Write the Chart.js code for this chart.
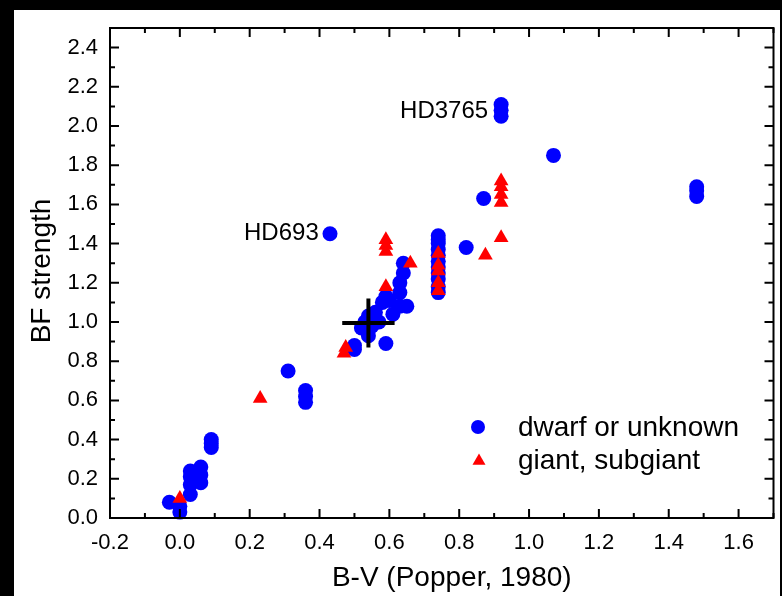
<!DOCTYPE html>
<html><head><meta charset="utf-8">
<script src="https://cdn.jsdelivr.net/npm/chart.js@4/dist/chart.umd.min.js"></script>
<style>html,body{margin:0;padding:0;background:#000;}canvas{display:block;}</style>
</head><body>
<canvas id="c" width="782" height="596"></canvas>
<script>
// ---- data ----
const seriesLabels = ["dwarf or unknown", "giant, subgiant"];
const dwarfX = [-0.03, 0.00, 0.00, 0.03, 0.03, 0.03, 0.03, 0.06, 0.06, 0.06, 0.09, 0.09, 0.09,
  0.31, 0.36, 0.36, 0.36, 0.43, 0.50, 0.50, 0.52, 0.53, 0.54, 0.54, 0.54, 0.55, 0.56, 0.57, 0.58,
  0.59, 0.59, 0.60, 0.61, 0.63, 0.63, 0.63, 0.64, 0.64, 0.65,
  0.74, 0.74, 0.74, 0.74, 0.74, 0.74, 0.74, 0.74, 0.74, 0.74, 0.74,
  0.82, 0.87, 0.92, 0.92, 0.92, 1.07, 1.48, 1.48, 1.48];
const dwarfY = [0.08, 0.03, 0.06, 0.12, 0.17, 0.21, 0.24, 0.18, 0.22, 0.26, 0.36, 0.38, 0.40,
  0.75, 0.59, 0.62, 0.65, 1.45, 0.86, 0.88, 0.97, 1.00, 1.03, 0.96, 0.93, 0.98, 1.05, 1.00, 1.10,
  0.89, 1.13, 1.11, 1.04, 1.08, 1.15, 1.20, 1.25, 1.30, 1.08,
  1.15, 1.18, 1.22, 1.25, 1.28, 1.31, 1.34, 1.37, 1.40, 1.42, 1.44,
  1.38, 1.63, 2.05, 2.08, 2.11, 1.85, 1.64, 1.67, 1.69];
const giantX = [0.00, 0.23, 0.47, 0.475, 0.59, 0.59, 0.59, 0.59, 0.66,
  0.74, 0.74, 0.74, 0.74, 0.74, 0.875, 0.92, 0.92, 0.92, 0.92, 0.92];
const giantY = [0.10, 0.61, 0.84, 0.87, 1.36, 1.39, 1.42, 1.18, 1.30,
  1.16, 1.20, 1.26, 1.29, 1.35, 1.34, 1.43, 1.61, 1.65, 1.69, 1.72];
// reference point with error bars
const refX = [0.54], refY = [0.995], refErrX = [0.075], refErrY = [0.125];
// labelled stars
const annotNames = ["HD693", "HD3765"];
const annotX = [0.435, 0.92];
const annotY = [1.455, 2.08];
// axes
const xTickValues = [-0.2, 0.0, 0.2, 0.4, 0.6, 0.8, 1.0, 1.2, 1.4, 1.6];
const xTickLabels = ["-0.2", "0.0", "0.2", "0.4", "0.6", "0.8", "1.0", "1.2", "1.4", "1.6"];
const yTickValues = [0.0, 0.2, 0.4, 0.6, 0.8, 1.0, 1.2, 1.4, 1.6, 1.8, 2.0, 2.2, 2.4];
const yTickLabels = ["0.0", "0.2", "0.4", "0.6", "0.8", "1.0", "1.2", "1.4", "1.6", "1.8", "2.0", "2.2", "2.4"];
const xTitle = "B-V (Popper, 1980)";
const yTitle = "BF strength";

const FONT = "'Liberation Sans', Arial, sans-serif";
const BLUE = "#0000ff", RED = "#ff0000", INK = "#000000";

function drawTri(ctx, x, y, r) {
  ctx.beginPath();
  ctx.moveTo(x, y - r);
  ctx.lineTo(x + r * Math.sin(Math.PI * 2 / 3), y + r / 2);
  ctx.lineTo(x - r * Math.sin(Math.PI * 2 / 3), y + r / 2);
  ctx.closePath();
  ctx.fill();
}

const decor = {
  id: 'decor',
  beforeDraw(chart) {
    const ctx = chart.ctx;
    ctx.save();
    ctx.fillStyle = '#000';
    ctx.fillRect(0, 0, chart.width, chart.height);
    ctx.fillStyle = '#fff';
    ctx.fillRect(14, 10, 766, 586);
    ctx.restore();
  },
  afterDatasetsDraw(chart) {
    const ctx = chart.ctx;
    const xs = chart.scales.x, ys = chart.scales.y;
    const a = chart.chartArea;
    ctx.save();
    // reference cross
    ctx.strokeStyle = INK; ctx.lineWidth = 4; ctx.lineCap = 'butt';
    for (let i = 0; i < refX.length; i++) {
      const cx = xs.getPixelForValue(refX[i]), cy = ys.getPixelForValue(refY[i]);
      ctx.beginPath();
      ctx.moveTo(xs.getPixelForValue(refX[i] - refErrX[i]), cy);
      ctx.lineTo(xs.getPixelForValue(refX[i] + refErrX[i]), cy);
      ctx.moveTo(cx, ys.getPixelForValue(refY[i] - refErrY[i]));
      ctx.lineTo(cx, ys.getPixelForValue(refY[i] + refErrY[i]));
      ctx.stroke();
    }
    // frame
    ctx.lineWidth = 2;
    ctx.strokeRect(a.left, a.top, a.right - a.left, a.bottom - a.top);
    // ticks (inward), minor every 0.1, major every 0.2
    ctx.beginPath();
    for (let i = Math.ceil(xs.min * 10 - 1e-6); i <= Math.floor(xs.max * 10 + 1e-6); i++) {
      const px = xs.getPixelForValue(i / 10);
      const L = (i % 2 === 0) ? 9 : 5;
      ctx.moveTo(px, a.bottom); ctx.lineTo(px, a.bottom - L);
      ctx.moveTo(px, a.top); ctx.lineTo(px, a.top + L);
    }
    for (let i = Math.ceil(ys.min * 10 - 1e-6); i <= Math.floor(ys.max * 10 + 1e-6); i++) {
      const py = ys.getPixelForValue(i / 10);
      const L = (i % 2 === 0) ? 9 : 5;
      ctx.moveTo(a.left, py); ctx.lineTo(a.left + L, py);
      ctx.moveTo(a.right, py); ctx.lineTo(a.right - L, py);
    }
    ctx.stroke();
    // annotations
    ctx.fillStyle = INK;
    ctx.font = "24px " + FONT;
    ctx.textAlign = 'right'; ctx.textBaseline = 'middle';
    for (let i = 0; i < annotNames.length; i++) {
      ctx.fillText(annotNames[i], xs.getPixelForValue(annotX[i]) - 13, ys.getPixelForValue(annotY[i]) + 1);
    }
    // axis titles
    ctx.font = "28px " + FONT;
    ctx.textAlign = 'center';
    ctx.fillText(xTitle, (a.left + a.right) / 2 + 10, 578);
    ctx.save();
    ctx.translate(42, (a.top + a.bottom) / 2 - 2);
    ctx.rotate(-Math.PI / 2);
    ctx.fillText(yTitle, 0, 0);
    ctx.restore();
    // legend
    const ds = chart.data.datasets;
    ctx.font = "28px " + FONT;
    ctx.textAlign = 'left';
    const legY = [427, 460];
    ds.forEach((d) => {
      const idx = d.label === seriesLabels[0] ? 0 : 1;
      const y = legY[idx];
      ctx.fillStyle = d.backgroundColor;
      if (d.pointStyle === 'circle') {
        ctx.beginPath(); ctx.arc(478, y, 7, 0, Math.PI * 2); ctx.fill();
      } else {
        drawTri(ctx, 479, y + 1, 7.5);
      }
      ctx.fillStyle = INK;
      ctx.fillText(d.label, 518, y + 1);
    });
    ctx.restore();
  }
};

const tickFont = { family: FONT, size: 22 };

new Chart(document.getElementById('c'), {
  type: 'scatter',
  data: {
    datasets: [
      {
        label: seriesLabels[0],
        data: dwarfX.map((x, i) => ({ x: x, y: dwarfY[i] })),
        pointStyle: 'circle', pointRadius: 7.5, pointHoverRadius: 7.5,
        backgroundColor: BLUE, borderColor: BLUE, borderWidth: 0, order: 2, clip: false
      },
      {
        label: seriesLabels[1],
        data: giantX.map((x, i) => ({ x: x, y: giantY[i] })),
        pointStyle: 'triangle', pointRadius: 8.5, pointHoverRadius: 8.5,
        backgroundColor: RED, borderColor: RED, borderWidth: 0, order: 1, clip: false
      }
    ]
  },
  options: {
    responsive: false,
    animation: false,
    events: [],
    layout: { padding: { left: 0, top: 28, right: 5, bottom: 0 } },
    plugins: { legend: { display: false }, tooltip: { enabled: false } },
    scales: {
      x: {
        type: 'linear', position: 'bottom', min: -0.2, max: 1.7,
        afterBuildTicks: s => { s.ticks = xTickValues.map(v => ({ value: v })); },
        afterFit: s => { s.height = 78; },
        grid: { display: false, drawTicks: false },
        border: { display: false },
        ticks: { callback: (v, i) => xTickLabels[i], font: tickFont, color: INK, padding: 12, maxRotation: 0, autoSkip: false },
        title: { display: false, text: xTitle }
      },
      y: {
        type: 'linear', position: 'left', min: 0, max: 2.5,
        afterBuildTicks: s => { s.ticks = yTickValues.map(v => ({ value: v })); },
        afterFit: s => { s.width = 110; },
        grid: { display: false, drawTicks: false },
        border: { display: false },
        ticks: { callback: (v, i) => yTickLabels[i], font: tickFont, color: INK, padding: 12, autoSkip: false },
        title: { display: false, text: yTitle }
      }
    }
  },
  plugins: [decor]
});
</script>
</body></html>
